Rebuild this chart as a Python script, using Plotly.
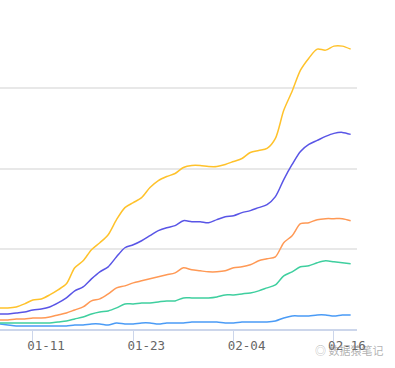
import plotly.graph_objects as go
import pandas as pd

start_date = "2023-01-07"
end_date = "2023-02-18"
dates = [d.strftime("%Y-%m-%d") for d in pd.date_range(start_date, end_date, freq="D")]

tick_dates = ["2023-01-11", "2023-01-23", "2023-02-04", "2023-02-16"]
tick_labels = ["01-11", "01-23", "02-04", "02-16"]

series_yellow = [1050, 1050, 1100, 1250, 1450, 1500, 1700, 1950, 2250, 3050, 3400, 3950, 4300, 4700,
                 5450, 6050, 6300, 6550, 7050, 7400, 7600, 7750, 8050, 8150, 8150, 8100, 8100, 8200,
                 8350, 8500, 8800, 8900, 9000, 9500, 10900, 11850, 12900, 13500, 13950, 13900, 14100,
                 14100, 13950]
series_blue = [750, 750, 800, 850, 950, 1000, 1100, 1300, 1550, 1900, 2100, 2500, 2850, 3100, 3600,
               4050, 4200, 4400, 4650, 4900, 5050, 5150, 5400, 5350, 5350, 5300, 5450, 5600, 5650,
               5800, 5900, 6050, 6200, 6600, 7450, 8200, 8850, 9200, 9400, 9600, 9750, 9800, 9700]
series_orange = [450, 450, 500, 500, 550, 550, 600, 700, 800, 950, 1100, 1400, 1500, 1750, 2050,
                 2150, 2300, 2400, 2500, 2600, 2700, 2800, 3050, 2950, 2900, 2850, 2850, 2900, 3050,
                 3100, 3200, 3400, 3500, 3600, 4300, 4650, 5250, 5300, 5450, 5500, 5500, 5500, 5400]
series_green = [300, 300, 300, 300, 300, 300, 300, 350, 400, 500, 600, 750, 850, 900, 1050, 1250,
                1250, 1300, 1300, 1350, 1400, 1400, 1550, 1550, 1550, 1550, 1600, 1700, 1700, 1750,
                1800, 1900, 2050, 2200, 2650, 2850, 3100, 3150, 3300, 3400, 3350, 3300, 3250]
series_lightblue = [250, 200, 150, 150, 150, 150, 150, 150, 150, 200, 200, 250, 250, 200, 300, 250,
                    250, 300, 300, 250, 300, 300, 300, 350, 350, 350, 350, 300, 300, 350, 350, 350,
                    350, 400, 550, 650, 650, 650, 700, 700, 650, 700, 700]

series = [
    (series_lightblue, "#4a9bf6"),
    (series_green, "#3fcf9f"),
    (series_orange, "#ff9955"),
    (series_blue, "#5955e6"),
    (series_yellow, "#ffc22b"),
]

fig = go.Figure()
for vals, color in series:
    fig.add_trace(go.Scatter(
        x=dates, y=vals, mode="lines",
        line=dict(color=color, width=1.5, shape="spline", smoothing=0.8),
        showlegend=False, hoverinfo="skip",
    ))

fig.update_layout(
    width=395, height=368,
    margin=dict(l=0, r=38, t=7, b=39),
    paper_bgcolor="white", plot_bgcolor="white",
    xaxis=dict(
        range=["2023-01-07 01:26", "2023-02-18 18:14"],
        tickvals=tick_dates, ticktext=tick_labels,
        ticks="outside", ticklen=10, tickwidth=1, tickcolor="#ccd6eb",
        ticklabelstandoff=-6, ticklabelshift=13,
        showline=True, linecolor="#ccd6eb", linewidth=1.5,
        showgrid=False, zeroline=False,
        tickfont=dict(family="DejaVu Sans Mono", size=12.5, color="#666666"),
    ),
    yaxis=dict(
        range=[0, 16050],
        tickvals=[0, 4000, 8000, 12000, 16000],
        showticklabels=False, ticks="",
        showgrid=True, gridcolor="#e8e8e8", gridwidth=1.5,
        zeroline=False, showline=False,
    ),
)

fig.add_annotation(
    xref="paper", yref="paper", x=0.877, y=-0.065, xanchor="left", yanchor="middle",
    text="◎ 数据猿笔记", showarrow=False,
    font=dict(family="Noto Sans CJK SC", size=11, color="rgba(110,110,110,0.55)"),
)

fig.write_html("out.html", config={"displayModeBar": False},
               post_script="document.body.style.margin='0';")
